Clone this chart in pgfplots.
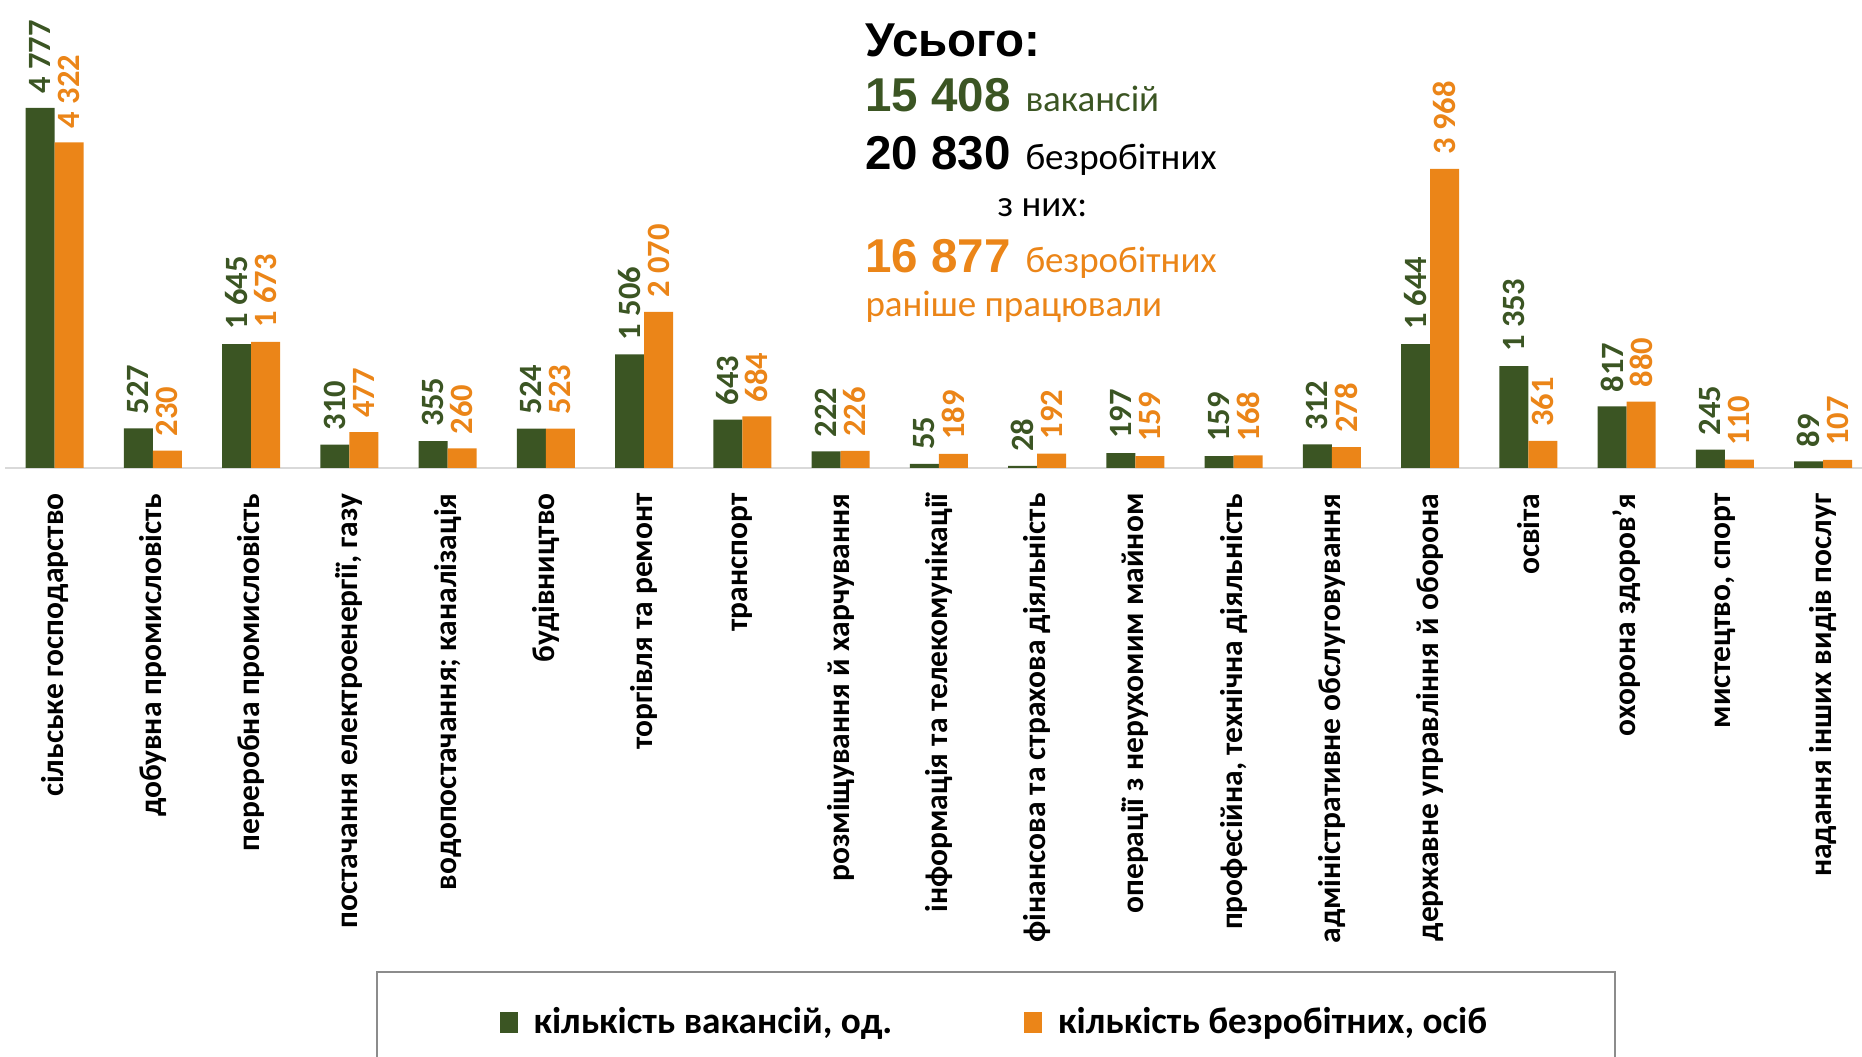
\documentclass[border=0pt]{standalone}
\usepackage{fontspec}
\setmainfont{Carlito}
\newfontfamily\arialfont{Liberation Sans}
\usepackage{pgfplots}
\pgfplotsset{compat=1.18}
\definecolor{cgreen}{HTML}{3B5523}
\definecolor{corange}{HTML}{EB8518}

\begin{document}
\begin{tikzpicture}
\path[use as bounding box] (0,0) rectangle (744.8pt,422.8pt);
\begin{axis}[
  at={(2.16pt,235.6pt)}, anchor=south west,
  scale only axis, width=746.7pt, height=187.2pt,
  ybar=0pt, bar width=0.295,
  xmin=-0.5, xmax=18.5, ymin=0, ymax=6210,
  axis y line=none, axis x line*=bottom,
  x axis line style={draw=black!15, line width=1pt, -},
  xtick={0,...,18},
  xticklabels={сільське господарство, добувна промисловість, переробна промисловість, {постачання електроенергії, газу}, водопостачання; каналізація, будівництво, торгівля та ремонт, транспорт, розміщування й харчування, інформація та телекомунікації, фінансова та страхова діяльність, операції з нерухомим майном, {професійна, технічна діяльність}, адміністративне обслуговування, державне управління й оборона, освіта, охорона здоров'я, {мистецтво, спорт}, надання інших видів послуг},
  major tick length=0pt,
  xticklabel style={yshift=-10pt, rotate=90, anchor=east, inner sep=0pt, font=\bfseries\fontsize{12.6}{13}\selectfont},
  clip=false,
  nodes near coords,
  /pgf/number format/1000 sep={~},
  /pgf/number format/assume math mode=true,
  every node near coord/.append style={rotate=90, anchor=west, inner sep=0pt, xshift=5.5pt, font=\bfseries\fontsize{13}{13}\selectfont},
  legend style={at={(axis description cs:0.1987,-1.0748)}, anchor=north west, draw=black!45, line width=0.8pt, inner xsep=49pt, inner ysep=12pt, font=\bfseries\fontsize{14.9}{16}\selectfont, /tikz/every odd column/.append style={column sep=4.3pt}, /tikz/every even column/.append style={column sep=50.85pt}},
  legend columns=2,
]
\addplot[fill=cgreen, draw=none, every node near coord/.append style={text=cgreen},
  legend image code/.code={\fill[cgreen] (0pt,-4.5pt) rectangle (7.2pt,3.9pt);}]
  coordinates {(0,4777) (1,527) (2,1645) (3,310) (4,355) (5,524) (6,1506) (7,643) (8,222) (9,55) (10,28) (11,197) (12,159) (13,312) (14,1644) (15,1353) (16,817) (17,245) (18,89)};
\addlegendentry{кількість вакансій, од.}
\addplot[fill=corange, draw=none, every node near coord/.append style={text=corange},
  legend image code/.code={\fill[corange] (0pt,-4.5pt) rectangle (7.2pt,3.9pt);}]
  coordinates {(0,4322) (1,230) (2,1673) (3,477) (4,260) (5,523) (6,2070) (7,684) (8,226) (9,189) (10,192) (11,159) (12,168) (13,278) (14,3968) (15,361) (16,880) (17,110) (18,107)};
\addlegendentry{кількість безробітних, осіб}
\end{axis}
\begin{scope}[every node/.style={anchor=base west, inner sep=0pt}]
\node[font=\arialfont\bfseries\fontsize{19}{20}\selectfont] at (346pt,400pt) {Усього:};
\node[font=\arialfont\bfseries\fontsize{19}{20}\selectfont, text=cgreen] at (346pt,378pt) {15 408};
\node[font=\fontsize{14.8}{18}\selectfont, text=cgreen] at (410pt,378pt) {вакансій};
\node[font=\arialfont\bfseries\fontsize{19}{20}\selectfont] at (346pt,354.8pt) {20 830};
\node[font=\fontsize{14.8}{18}\selectfont] at (410pt,354.8pt) {безробітних};
\node[font=\fontsize{14.8}{18}\selectfont] at (398.8pt,336pt) {з них:};
\node[font=\arialfont\bfseries\fontsize{19}{20}\selectfont, text=corange] at (346pt,313.6pt) {16 877};
\node[font=\fontsize{14.8}{18}\selectfont, text=corange] at (410pt,313.6pt) {безробітних};
\node[font=\fontsize{14.8}{18}\selectfont, text=corange] at (346pt,296pt) {раніше працювали};
\end{scope}
\end{tikzpicture}
\end{document}
